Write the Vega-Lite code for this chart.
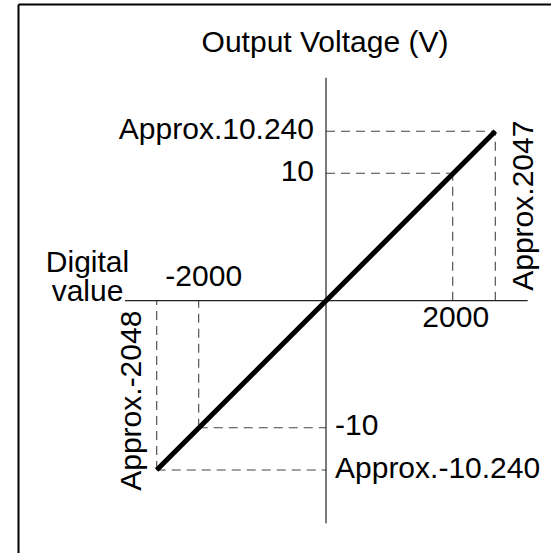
{
  "$schema": "https://vega.github.io/schema/vega-lite/v6.json",
  "width": 533,
  "height": 549,
  "autosize": {"type": "none"},
  "padding": {"left": 18, "top": 4, "right": 0, "bottom": 0},
  "background": "white",
  "config": {
    "view": {"stroke": null},
    "axis": {"grid": false, "ticks": false, "labels": false, "title": null, "domainColor": "black", "domainWidth": 2},
    "text": {"font": "Liberation Sans", "fontSize": 30, "color": "black"}
  },
  "datasets": {
    "curve": [{"x": -2048, "y": -10.24}, {"x": 0, "y": 0}, {"x": 2047, "y": 10.24}],
    "axisH": [{"x": -2300, "x2": 2300, "y": 0}],
    "axisV": [{"x": 0, "y": -12, "y2": 12}],
    "guideH": [
      {"x": 0, "x2": 2047, "y": 10.24},
      {"x": 0, "x2": 2000, "y": 10},
      {"x": -2000, "x2": 0, "y": -10},
      {"x": -2048, "x2": 0, "y": -10.24}
    ],
    "guideV": [
      {"x": 2047, "y": 0, "y2": 10.24},
      {"x": 2000, "y": 0, "y2": 10},
      {"x": -2000, "y": -10, "y2": 0},
      {"x": -2048, "y": -10.24, "y2": 0}
    ],
    "title": [{"x": 0, "y": 12, "label": "Output Voltage (V)"}],
    "leftLabels": [{"x": 0, "y": 10.24, "label": "Approx.10.240"}, {"x": 0, "y": 10, "label": "10"}],
    "rightLabels": [{"x": 0, "y": -10, "label": "-10"}, {"x": 0, "y": -10.24, "label": "Approx.-10.240"}],
    "negTick": [{"x": -2000, "y": 0, "label": "-2000"}],
    "posTick": [{"x": 2000, "y": 0, "label": "2000"}],
    "digital": [{"x": -2300, "y": 0, "label": "Digital"}],
    "value": [{"x": -2300, "y": 0, "label": "value"}],
    "approxPos": [{"x": 2047, "y": 0, "label": "Approx.2047"}],
    "approxNeg": [{"x": -2048, "y": 0, "label": "Approx.-2048"}]
  },
  "encoding": {
    "x": {
      "field": "x", "type": "quantitative",
      "scale": {"domain": [-2600, -2300, -2048, -2000, 0, 2000, 2047, 2300, 2500], "range": [0, 107, 138.7, 180.7, 308, 434.7, 477.3, 509.7, 533], "nice": false, "zero": false},
      "axis": {"orient": "top", "title": null}
    },
    "y": {
      "field": "y", "type": "quantitative",
      "scale": {"domain": [-12.5, -12, -10.24, -10, 0, 10, 10.24, 12, 13.5], "range": [549, 519.3, 466, 423.7, 296.7, 169.3, 127.3, 73.7, 0], "nice": false, "zero": false},
      "axis": {"orient": "left", "title": null}
    }
  },
  "layer": [
    {"data": {"name": "guideH"}, "mark": {"type": "rule", "color": "#444", "strokeWidth": 1.1, "strokeDash": [9, 6]}, "encoding": {"x2": {"field": "x2"}}},
    {"data": {"name": "guideV"}, "mark": {"type": "rule", "color": "#444", "strokeWidth": 1.1, "strokeDash": [9, 6]}, "encoding": {"y2": {"field": "y2"}}},
    {"data": {"name": "axisH"}, "mark": {"type": "rule", "color": "#222", "strokeWidth": 1.2}, "encoding": {"x2": {"field": "x2"}}},
    {"data": {"name": "axisV"}, "mark": {"type": "rule", "color": "#222", "strokeWidth": 1.2}, "encoding": {"y2": {"field": "y2"}}},
    {"data": {"name": "curve"}, "mark": {"type": "line", "color": "black", "strokeWidth": 5, "strokeCap": "butt"}, "encoding": {}},
    {"data": {"name": "title"}, "mark": {"type": "text", "align": "center", "baseline": "alphabetic", "dx": -1, "dy": -26}, "encoding": {"text": {"field": "label"}}},
    {"data": {"name": "leftLabels"}, "mark": {"type": "text", "align": "right", "baseline": "alphabetic", "dx": -12, "dy": 8}, "encoding": {"text": {"field": "label"}}},
    {"data": {"name": "rightLabels"}, "mark": {"type": "text", "align": "left", "baseline": "alphabetic", "dx": 9, "dy": 7.5}, "encoding": {"text": {"field": "label"}}},
    {"data": {"name": "negTick"}, "mark": {"type": "text", "align": "center", "baseline": "alphabetic", "dx": 5, "dy": -15}, "encoding": {"text": {"field": "label"}}},
    {"data": {"name": "posTick"}, "mark": {"type": "text", "align": "center", "baseline": "alphabetic", "dx": 3, "dy": 26}, "encoding": {"text": {"field": "label"}}},
    {"data": {"name": "digital"}, "mark": {"type": "text", "align": "center", "baseline": "alphabetic", "dx": -37.5, "dy": -28.5}, "encoding": {"text": {"field": "label"}}},
    {"data": {"name": "value"}, "mark": {"type": "text", "align": "center", "baseline": "alphabetic", "dx": -37.5, "dy": 0}, "encoding": {"text": {"field": "label"}}},
    {"data": {"name": "approxPos"}, "mark": {"type": "text", "align": "center", "baseline": "alphabetic", "angle": -90, "dx": 95, "dy": 38}, "encoding": {"text": {"field": "label"}}},
    {"data": {"name": "approxNeg"}, "mark": {"type": "text", "align": "center", "baseline": "alphabetic", "angle": -90, "dx": -100, "dy": -16}, "encoding": {"text": {"field": "label"}}}
  ]
}
